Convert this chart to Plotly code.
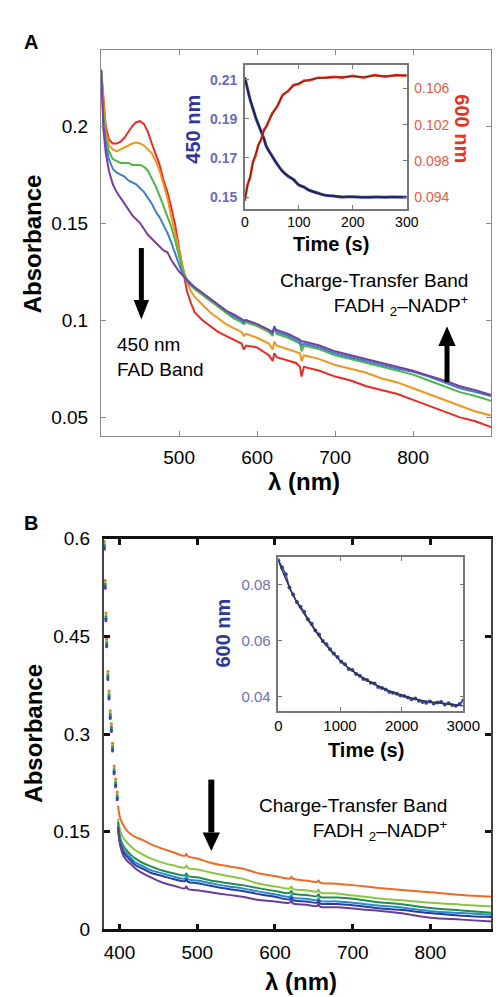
import plotly.graph_objects as go

W, H = 502, 997
FONT = "Liberation Sans, Arial, sans-serif"

# ---- panel A: spectra (nm vs absorbance)
a_nm = [400, 403, 406, 410, 415, 420, 425, 430, 435, 440, 445, 450, 455, 460, 465, 470, 475, 480,
        485, 490, 495, 500, 505, 510, 515, 520, 530, 540, 550, 560, 570, 580, 583, 586, 600, 615,
        620, 622, 625, 640, 650, 655, 657, 660, 680, 700, 720, 740, 760, 780, 800, 820, 840, 860,
        880, 900]
a_red = [0.229, 0.212, 0.200, 0.193, 0.191, 0.191, 0.192, 0.194, 0.197, 0.200, 0.202, 0.2025, 0.201,
         0.197, 0.191, 0.186, 0.180, 0.172, 0.166, 0.158, 0.149, 0.137, 0.125, 0.115, 0.109, 0.104,
         0.100, 0.097, 0.094, 0.092, 0.090, 0.088, 0.085, 0.087, 0.086, 0.082, 0.079, 0.083, 0.081,
         0.079, 0.078, 0.076, 0.071, 0.076, 0.074, 0.071, 0.069, 0.066, 0.064, 0.062, 0.059, 0.056,
         0.053, 0.050, 0.048, 0.045]
a_orange = [0.229, 0.210, 0.197, 0.190, 0.188, 0.187, 0.188, 0.189, 0.190, 0.191, 0.1915, 0.191, 0.190,
            0.188, 0.186, 0.182, 0.177, 0.170, 0.163, 0.153, 0.145, 0.136, 0.127, 0.120, 0.115, 0.112,
            0.108, 0.104, 0.101, 0.098, 0.096, 0.094, 0.092, 0.093, 0.091, 0.088, 0.085, 0.089, 0.087,
            0.085, 0.084, 0.083, 0.079, 0.082, 0.080, 0.077, 0.075, 0.073, 0.070, 0.068, 0.065, 0.062,
            0.059, 0.056, 0.053, 0.051]
a_green = [0.229, 0.205, 0.193, 0.187, 0.183, 0.182, 0.181, 0.181, 0.181, 0.180, 0.180, 0.180, 0.179,
           0.177, 0.173, 0.169, 0.164, 0.159, 0.154, 0.148, 0.141, 0.133, 0.125, 0.121, 0.118, 0.116,
           0.113, 0.110, 0.107, 0.104, 0.101, 0.099, 0.098, 0.099, 0.097, 0.094, 0.092, 0.097, 0.093,
           0.091, 0.089, 0.088, 0.084, 0.087, 0.085, 0.082, 0.080, 0.078, 0.076, 0.074, 0.072, 0.069,
           0.066, 0.063, 0.061, 0.0585]
a_blue = [0.229, 0.202, 0.190, 0.183, 0.178, 0.176, 0.175, 0.174, 0.172, 0.171, 0.170, 0.168, 0.166,
          0.163, 0.160, 0.156, 0.153, 0.149, 0.145, 0.140, 0.134, 0.128, 0.123, 0.120, 0.118, 0.117,
          0.114, 0.111, 0.108, 0.105, 0.102, 0.100, 0.099, 0.100, 0.098, 0.095, 0.093, 0.097, 0.094,
          0.092, 0.090, 0.089, 0.087, 0.088, 0.086, 0.083, 0.081, 0.079, 0.077, 0.075, 0.0735, 0.071,
          0.068, 0.065, 0.063, 0.061]
a_purple = [0.229, 0.198, 0.186, 0.177, 0.170, 0.166, 0.163, 0.160, 0.157, 0.154, 0.152, 0.150, 0.147,
            0.144, 0.142, 0.140, 0.138, 0.136, 0.135, 0.131, 0.128, 0.125, 0.123, 0.121, 0.119, 0.117,
            0.114, 0.111, 0.108, 0.105, 0.103, 0.101, 0.100, 0.100, 0.098, 0.095, 0.094, 0.096, 0.095,
            0.093, 0.091, 0.090, 0.089, 0.089, 0.087, 0.084, 0.082, 0.080, 0.078, 0.076, 0.074, 0.0715,
            0.069, 0.066, 0.064, 0.0615]
a_colors = ["#ec2a24", "#f7941d", "#4cb848", "#3d7fcb", "#7b3fa0"]

# ---- panel A inset: kinetics
ka_t = [0, 5, 10, 15, 20, 25, 30, 35, 40, 50, 60, 70, 80, 90, 100, 110, 120, 135, 150, 165, 180,
        200, 220, 240, 260, 280, 300]
ka_450_fit = [0.211, 0.205, 0.200, 0.195, 0.191, 0.187, 0.184, 0.180, 0.176, 0.171, 0.167, 0.163,
              0.161, 0.159, 0.1565, 0.155, 0.1535, 0.152, 0.151, 0.1505, 0.1502, 0.150, 0.150, 0.150,
              0.150, 0.150, 0.150]
ka_450_obs = [0.2112, 0.2053, 0.1996, 0.1953, 0.1907, 0.1872, 0.1836, 0.1802, 0.1758, 0.1713, 0.1668,
              0.1632, 0.1607, 0.1590, 0.1562, 0.1551, 0.1534, 0.1521, 0.1509, 0.1506, 0.1501, 0.1502,
              0.1499, 0.1501, 0.1500, 0.1501, 0.1500]
ka_600_fit = [0.0937, 0.0952, 0.0964, 0.0977, 0.0988, 0.0996, 0.1004, 0.1012, 0.1019, 0.1030, 0.1041,
              0.1052, 0.1058, 0.1062, 0.1066, 0.1068, 0.1070, 0.1071, 0.1072, 0.1072, 0.1073, 0.1073,
              0.1073, 0.1074, 0.1074, 0.1074, 0.1075]
ka_600_obs = [0.0936, 0.0954, 0.0962, 0.0979, 0.0986, 0.0998, 0.1003, 0.1014, 0.1018, 0.1032, 0.1040,
              0.1053, 0.1057, 0.1064, 0.1065, 0.1069, 0.1069, 0.1072, 0.1072, 0.1073, 0.1072, 0.1074,
              0.1072, 0.1075, 0.1073, 0.1075, 0.1074]

# ---- panel B: spectra
b_dot_nm = [380.5, 381.5, 382.5, 383.5, 385, 386.5, 388, 389.5, 391, 393, 395, 397]
b_dot_ref = [0.59, 0.53, 0.48, 0.44, 0.39, 0.36, 0.33, 0.31, 0.28, 0.245, 0.225, 0.205]
b_nm = [398, 401, 405, 410, 415, 420, 430, 440, 455, 470, 484, 486, 488, 500, 517, 540, 558, 580,
        600, 619, 621, 623, 640, 654, 656, 658, 680, 700, 730, 760, 800, 840, 880]
b_orange = [0.190, 0.170, 0.160, 0.151, 0.146, 0.142, 0.137, 0.131, 0.124, 0.118, 0.113, 0.116, 0.112,
            0.109, 0.1025, 0.097, 0.0935, 0.086, 0.082, 0.078, 0.081, 0.078, 0.075, 0.073, 0.075,
            0.072, 0.070, 0.068, 0.064, 0.061, 0.057, 0.053, 0.050]
b_lgreen = [0.170, 0.151, 0.140, 0.133, 0.127, 0.122, 0.115, 0.109, 0.1025, 0.098, 0.095, 0.098,
            0.094, 0.092, 0.0875, 0.082, 0.078, 0.070, 0.066, 0.063, 0.066, 0.062, 0.060, 0.058,
            0.061, 0.057, 0.055, 0.052, 0.048, 0.045, 0.041, 0.038, 0.035]
b_dgreen = [0.165, 0.140, 0.128, 0.120, 0.114, 0.109, 0.102, 0.097, 0.0905, 0.086, 0.083, 0.086,
            0.082, 0.080, 0.075, 0.071, 0.068, 0.063, 0.059, 0.056, 0.059, 0.055, 0.053, 0.051,
            0.054, 0.050, 0.049, 0.047, 0.042, 0.039, 0.033, 0.029, 0.0256]
b_blue = [0.160, 0.135, 0.122, 0.115, 0.109, 0.103, 0.097, 0.091, 0.086, 0.081, 0.078, 0.081, 0.077,
          0.075, 0.071, 0.066, 0.063, 0.058, 0.054, 0.050, 0.053, 0.049, 0.047, 0.045, 0.048, 0.044,
          0.043, 0.041, 0.037, 0.034, 0.028, 0.025, 0.0226]
b_navy = [0.157, 0.131, 0.118, 0.111, 0.105, 0.099, 0.093, 0.087, 0.082, 0.077, 0.074, 0.077, 0.073,
          0.071, 0.067, 0.062, 0.059, 0.054, 0.050, 0.046, 0.049, 0.045, 0.043, 0.041, 0.044, 0.040,
          0.039, 0.037, 0.033, 0.030, 0.025, 0.021, 0.019]
b_purple = [0.155, 0.128, 0.113, 0.105, 0.100, 0.094, 0.086, 0.080, 0.072, 0.067, 0.063, 0.066, 0.062,
            0.060, 0.057, 0.053, 0.050, 0.045, 0.043, 0.041, 0.044, 0.040, 0.038, 0.036, 0.039, 0.035,
            0.034, 0.032, 0.029, 0.025, 0.018, 0.015, 0.012]
b_dot_shift = [0.006, 0.003, 0.0, -0.002, -0.004, -0.006]
b_colors = ["#f26a22", "#8cc63f", "#1f8f4e", "#2a8ad0", "#2b3e9a", "#6a3d9a"]

# ---- panel B inset: kinetics at 600 nm
kb_t = [0, 60, 120, 180, 240, 300, 360, 420, 480, 540, 600, 660, 720, 780, 840, 900, 960, 1020,
        1080, 1140, 1200, 1260, 1320, 1380, 1440, 1500, 1560, 1620, 1680, 1740, 1800, 1860, 1920,
        1980, 2040, 2100, 2160, 2220, 2280, 2340, 2400, 2460, 2520, 2580, 2640, 2700, 2760, 2820,
        2880, 2940, 3000]
kb_obs = [0.0888, 0.0862, 0.0838, 0.0790, 0.0765, 0.0738, 0.0721, 0.0703, 0.0676, 0.0660, 0.0636,
          0.0622, 0.0598, 0.0587, 0.0569, 0.0553, 0.0541, 0.0524, 0.0515, 0.0498, 0.0494, 0.0480,
          0.0474, 0.0462, 0.0458, 0.0449, 0.0446, 0.0433, 0.0430, 0.0424, 0.0415, 0.0413, 0.0409,
          0.0403, 0.0401, 0.0396, 0.0389, 0.0392, 0.0384, 0.0380, 0.0377, 0.0381, 0.0374, 0.0378,
          0.0380, 0.0371, 0.0375, 0.0369, 0.0366, 0.0372, 0.0385]
kb_fit_t = [0, 250, 500, 750, 1000, 1250, 1500, 1750, 2000, 2250, 2500, 2750, 3000]
kb_fit = [0.0885, 0.0757, 0.0668, 0.0589, 0.0528, 0.0484, 0.0450, 0.0424, 0.0404, 0.0389, 0.0379,
          0.0372, 0.0366]


def px(x):
    return x / W


def py(y):
    return 1 - y / H


fig = go.Figure()

for vals, col in zip([a_red, a_orange, a_green, a_blue, a_purple], a_colors):
    fig.add_trace(go.Scatter(x=a_nm, y=vals, mode="lines", line=dict(color=col, width=2),
                             xaxis="x", yaxis="y"))

fig.add_trace(go.Scatter(x=ka_t, y=ka_450_obs, mode="lines", line=dict(color="#3a46b0", width=3, shape="spline"),
                         xaxis="x2", yaxis="y2"))
fig.add_trace(go.Scatter(x=ka_t, y=ka_450_fit, mode="lines", line=dict(color="#222233", width=1.5, shape="spline"),
                         xaxis="x2", yaxis="y2"))
fig.add_trace(go.Scatter(x=ka_t, y=ka_600_obs, mode="lines", line=dict(color="#e8321e", width=2.5),
                         xaxis="x2", yaxis="y3"))
fig.add_trace(go.Scatter(x=ka_t, y=ka_600_fit, mode="lines", line=dict(color="#6a2018", width=1, shape="spline"),
                         xaxis="x2", yaxis="y3"))

b_all = [b_orange, b_lgreen, b_dgreen, b_blue, b_navy, b_purple]
for vals, col, sh in zip(b_all, b_colors, b_dot_shift):
    fig.add_trace(go.Scatter(x=b_nm, y=vals, mode="lines", line=dict(color=col, width=2, shape="spline"),
                             xaxis="x4", yaxis="y4"))
    fig.add_trace(go.Scatter(x=b_dot_nm, y=[v + sh for v in b_dot_ref], mode="markers",
                             marker=dict(color=col, size=3), xaxis="x4", yaxis="y4"))

fig.add_trace(go.Scatter(x=kb_t, y=kb_obs, mode="lines+markers", line=dict(color="#3344aa", width=1.5),
                         marker=dict(color="#3344aa", size=4), xaxis="x5", yaxis="y5"))
fig.add_trace(go.Scatter(x=kb_fit_t, y=kb_fit, mode="lines", line=dict(color="#333333", width=1.3, shape="spline"),
                         xaxis="x5", yaxis="y5"))

tick_main = dict(family=FONT, size=19, color="black")
ax_a = dict(showgrid=False, zeroline=False, ticks="inside", ticklen=5, tickcolor="#8a8a8a",
            showline=True, linecolor="#8a8a8a", linewidth=1.3, mirror="ticks", tickfont=tick_main)
ax_b = dict(showgrid=False, zeroline=False, ticks="inside", ticklen=6, tickwidth=2.5, tickcolor="#111",
            showline=True, linecolor="#111", linewidth=2.5, mirror="ticks", tickfont=tick_main)
ax_in = dict(showgrid=False, zeroline=False, ticks="inside", ticklen=4, tickcolor="#777",
             showline=True, linecolor="#777", linewidth=1.5)

fig.update_layout(
    width=W, height=H, margin=dict(l=0, r=0, t=0, b=0),
    paper_bgcolor="white", plot_bgcolor="white", showlegend=False,
    font=dict(family=FONT, color="black"),
    xaxis=dict(ax_a, domain=[px(93), px(500)], range=[400, 900], anchor="y",
               tickvals=[500, 600, 700, 800], ticklabelstandoff=4),
    yaxis=dict(ax_a, domain=[py(427), py(33)], range=[0.0404, 0.239], anchor="x",
               tickvals=[0.05, 0.1, 0.15, 0.2], ticktext=["0.05", "0.1", "0.15", "0.2"],
               ticklabelstandoff=8),
    xaxis2=dict(ax_in, domain=[px(243), px(412)], range=[0, 300], anchor="y2", mirror="ticks",
                tickvals=[0, 100, 200, 300], tickfont=dict(family=FONT, size=14, color="black")),
    yaxis2=dict(ax_in, domain=[py(195), py(48)], range=[0.144, 0.2175], anchor="x2",
                tickvals=[0.15, 0.17, 0.19, 0.21], ticktext=["0.15", "0.17", "0.19", "0.21"],
                tickfont=dict(family=FONT, size=14, color="#6a6ac0", weight="bold"), ticklabelstandoff=3),
    yaxis3=dict(ax_in, overlaying="y2", side="right", anchor="x2", range=[0.0927, 0.1086],
                tickvals=[0.094, 0.098, 0.102, 0.106], ticktext=["0.094", "0.098", "0.102", "0.106"],
                tickfont=dict(family=FONT, size=14, color="#ec5a40"), ticklabelstandoff=3),
    xaxis4=dict(ax_b, domain=[px(96), px(500)], range=[380, 878], anchor="y4",
                tickvals=[400, 500, 600, 700, 800], ticklabelstandoff=4),
    yaxis4=dict(ax_b, domain=[py(931), py(532)], range=[0, 0.6], anchor="x4",
                tickvals=[0, 0.15, 0.3, 0.45, 0.6], ticktext=["0", "0.15", "0.3", "0.45", "0.6"],
                linecolor="#444", linewidth=2, ticklabelstandoff=8),
    xaxis5=dict(ax_in, domain=[px(278), px(471)], range=[0, 3000], anchor="y5", mirror="ticks",
                tickvals=[0, 1000, 2000, 3000], tickfont=dict(family=FONT, size=15, color="black")),
    yaxis5=dict(ax_in, domain=[py(708), py(551)], range=[0.0347, 0.0898], anchor="x5", mirror="ticks",
                tickvals=[0.04, 0.06, 0.08], ticktext=["0.04", "0.06", "0.08"],
                tickfont=dict(family=FONT, size=15, color="#7070c0"), ticklabelstandoff=3),
)


def label(x, y, text, size, color="black", bold=False, angle=0, xanchor="center", align="center"):
    fig.add_annotation(x=px(x), y=py(y), xref="paper", yref="paper", text=text, showarrow=False,
                       textangle=angle, xanchor=xanchor, yanchor="middle", align=align,
                       font=dict(family=FONT, size=size, color=color, weight="bold" if bold else "normal"))


label(20, 25, "A", 20, bold=True)
label(20, 516, "B", 20, bold=True)
label(21, 231, "Absorbance", 24, bold=True, angle=-90)
label(23, 731, "Absorbance", 24, bold=True, angle=-90)
label(305, 473, "λ (nm)", 24, bold=True)
label(302, 984, "λ (nm)", 24, bold=True)
label(188, 114, "450 nm", 20, color="#34379a", bold=True, angle=-90)
label(470, 113, "600 nm", 20, color="#e8321e", bold=True, angle=90)
label(333, 231, "Time (s)", 20, bold=True)
label(220, 628, "600 nm", 20, color="#2e3a9a", bold=True, angle=-90)
label(369, 748, "Time (s)", 20, bold=True)
label(107, 346, "450 nm<br>FAD Band", 19, xanchor="left", align="left")
label(479, 282, "Charge-Transfer Band<br>FADH <sub>2</sub>–NADP<sup>+</sup>", 19, xanchor="right", align="right")
label(457, 819, "Charge-Transfer Band<br>FADH <sub>2</sub>–NADP<sup>+</sup>", 19, xanchor="right", align="right")


def arrow(x, y_tail, y_base, y_tip, half, width):
    fig.add_shape(type="line", xref="paper", yref="paper", x0=px(x), x1=px(x), y0=py(y_tail), y1=py(y_base),
                  line=dict(color="black", width=width))
    fig.add_shape(type="path", xref="paper", yref="paper", fillcolor="black", line=dict(width=0),
                  path=f"M {px(x - half)},{py(y_base)} L {px(x + half)},{py(y_base)} L {px(x)},{py(y_tip)} Z")


arrow(135, 235, 288, 308, 8, 5)
arrow(454, 372, 335, 315, 9, 5)
arrow(208, 778, 832, 851, 9, 6)

fig.write_html("out.html")
